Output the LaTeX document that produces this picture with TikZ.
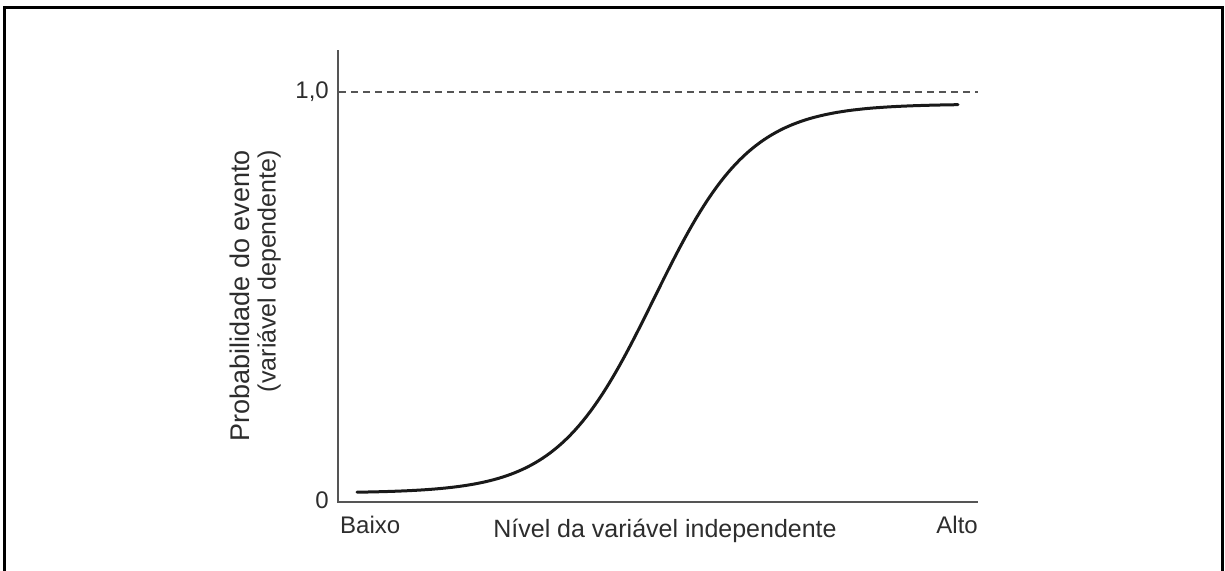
\documentclass[tikz,border=0pt]{standalone}
\usepackage{fontspec}
\setmainfont{Liberation Sans}
\definecolor{axisgray}{RGB}{85,85,85}
\definecolor{textgray}{RGB}{45,45,45}
\tikzset{
  axisline/.style={axisgray, line width=2pt},
  guideline/.style={axisgray, line width=1.4pt, dash pattern=on 7pt off 5pt},
  curveline/.style={black!90, line width=3pt, line cap=round},
  ticklabel/.style={textgray, inner sep=0pt, font=\fontsize{24}{26}\selectfont},
  axislabel/.style={textgray, inner sep=0pt, font=\fontsize{25}{26}\selectfont}
}
\begin{document}
\begin{tikzpicture}[x=1pt, y=-1pt]
\useasboundingbox (0,0) rectangle (1225,570);
\draw [line width=3pt] (4.5,571) -- (4.5,7) -- (1222,7) -- (1222,571);

\coordinate (O) at (338,502);
\coordinate (ytop) at (338,50);
\coordinate (xend) at (978,502);
\coordinate (oneL) at (339,92);
\coordinate (oneR) at (978,92);

\draw [axisline] (ytop) -- (O) -- (xend);
\draw [guideline] (oneL) -- (oneR);
\draw [curveline] plot[domain=357:958, samples=150] (\x, {493 - 389/(1+exp(-(\x-654)/48))});

\node [ticklabel, anchor=east] (one) at (329,92) {1,0};
\node [ticklabel, anchor=east] (zero) at (329,500) {0};
\node [ticklabel, anchor=base west] (baixo) at (340,533) {Baixo};
\node [axislabel, anchor=base] (nivel) at (665,537) {Nível da variável independente};
\node [ticklabel, anchor=base east] (alto) at (978,533) {Alto};
\node [axislabel, rotate=90, anchor=east, align=right] (prob) at (255.5,150) {{\fontsize{27}{26}\selectfont Probabilidade do evento}\\(variável dependente)};
\end{tikzpicture}
\end{document}
